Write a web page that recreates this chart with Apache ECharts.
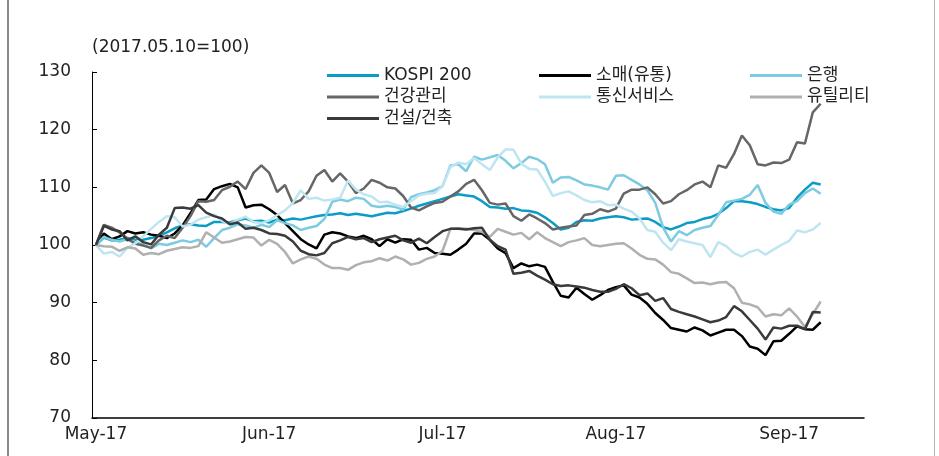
<!DOCTYPE html>
<html>
<head>
<meta charset="utf-8">
<script src="https://cdn.jsdelivr.net/npm/echarts@6/dist/echarts.min.js"></script>
<style>
html, body { margin: 0; padding: 0; background: #fff; }
#chart { width: 939px; height: 456px; }
</style>
</head>
<body>
<div id="chart"></div>
<script>
// 2017.05.10=100 기준 업종 지수 (일별)
var monthLabels = ['May-17', 'Jun-17', 'Jul-17', 'Aug-17', 'Sep-17'];
var daysPerMonth = 22;   // 라벨 간격(거래일)
var slotCount = 98;      // x축 전체 칸 수

var kospi = [100, 101.3, 100.8, 100.9, 101.2, 100.9, 100.9, 101.2, 101.6, 102.2,
    102.9, 103.4, 103.6, 103.4, 103.3, 104.0, 104.0, 103.9, 104.3, 104.6,
    104.1, 104.2, 103.9, 104.4, 104.3, 104.6, 104.4, 104.7, 105.0, 105.2,
    105.3, 105.5, 105.2, 105.4, 105.2, 105.0, 105.3, 105.6, 105.5, 105.9,
    106.3, 106.8, 107.2, 107.6, 108.0, 108.4, 108.8, 108.6, 108.4, 107.6,
    106.6, 106.5, 106.3, 106.4, 106.0, 105.9, 105.6, 104.8, 103.8, 102.7,
    103.0, 104.0, 104.3, 104.2, 104.6, 104.8, 105.0, 104.8, 104.4, 104.5,
    104.6, 104.0, 103.1, 102.7, 103.2, 103.8, 104.0, 104.5, 104.8, 105.4,
    106.4, 107.6, 107.6, 107.4, 107.1, 106.6, 106.2, 106.0, 106.4, 108.2,
    109.6, 110.8, 110.5];

var retail = [100, 102.0, 101.0, 101.5, 102.4, 102.0, 102.2, 101.8, 101.6, 101.2,
    102.0, 103.4, 105.5, 107.8, 107.9, 109.7, 110.2, 110.6, 110.0, 106.5,
    106.9, 107.0, 106.2, 105.2, 103.8, 102.4, 101.0, 100.1, 99.4, 101.8,
    102.2, 102.0, 101.5, 101.2, 101.6, 101.0, 99.8, 101.0, 100.4, 101.0,
    100.9, 99.2, 99.5, 98.6, 98.5, 98.3, 99.2, 100.2, 102.0, 102.0,
    100.9, 99.4, 98.6, 96.0, 96.8, 96.3, 96.6, 96.2, 93.6, 91.2,
    90.9, 92.6, 91.5, 90.5, 91.3, 92.2, 92.7, 93.0, 91.4, 90.9,
    89.8, 88.2, 87.0, 85.6, 85.3, 85.0, 85.7, 85.2, 84.3, 84.8,
    85.3, 85.3, 84.2, 82.4, 82.0, 80.9, 83.3, 83.4, 84.6, 85.9,
    85.4, 85.3, 86.6];

var bank = [100, 101.4, 100.9, 100.6, 101.0, 100.5, 100.1, 99.4, 100.2, 100.0,
    100.4, 100.8, 100.5, 100.9, 99.7, 101.2, 102.6, 103.0, 103.6, 103.4,
    103.0, 103.5, 103.1, 104.3, 103.8, 103.4, 102.6, 103.0, 103.3, 104.5,
    107.5, 107.9, 107.6, 108.2, 108.0, 106.8, 106.6, 106.8, 106.6, 106.1,
    108.3, 108.8, 109.1, 109.5, 110.2, 113.8, 114.0, 112.8, 115.3, 114.8,
    115.2, 115.6, 114.6, 113.3, 114.2, 115.3, 114.9, 114.0, 110.8, 111.7,
    111.8, 111.2, 110.5, 110.3, 110.0, 109.6, 112.0, 112.1, 111.3, 110.5,
    109.5, 107.3, 103.0, 100.6, 102.4, 101.7, 102.6, 103.0, 103.3, 105.2,
    107.4, 107.7, 108.0, 108.7, 110.4, 107.3, 105.8, 105.4, 107.0, 107.6,
    109.0, 109.8, 108.9];

var health = [100, 103.5, 103.0, 102.2, 101.1, 100.2, 99.9, 99.5, 100.8, 101.6,
    101.2, 103.0, 105.0, 107.6, 107.5, 107.8, 109.5, 110.1, 111.0, 109.7,
    112.5, 113.8, 112.5, 109.2, 110.4, 107.2, 107.8, 109.3, 112.0, 113.0,
    111.0, 112.4, 111.0, 109.0, 109.8, 111.3, 110.8, 110.0, 109.8, 108.5,
    106.5, 106.0, 106.7, 107.3, 107.5, 108.4, 109.3, 110.6, 111.3, 109.5,
    107.3, 107.0, 107.2, 105.0, 104.2, 105.3, 104.6, 103.8, 102.7, 103.0,
    103.2, 103.4, 105.2, 105.4, 106.2, 105.8, 106.3, 108.9, 109.6, 109.6,
    110.0, 108.8, 107.2, 107.6, 108.8, 109.5, 110.5, 111.0, 110.0, 113.8,
    113.4, 115.8, 119.0, 117.3, 114.0, 113.8, 114.3, 114.2, 114.8, 117.8,
    117.6, 123.0, 124.5];

var telecom = [100, 98.5, 98.8, 98.0, 99.5, 100.3, 101.5, 102.8, 104.0, 105.0,
    104.8, 103.2, 103.5, 104.4, 104.8, 105.3, 104.2, 103.6, 104.4, 104.9,
    104.0, 103.8, 104.3, 105.2, 106.0, 107.3, 109.5, 108.0, 108.2, 107.7,
    107.9, 108.2, 111.2, 109.6, 108.8, 108.4, 107.4, 107.5, 107.0, 106.6,
    107.6, 108.6, 108.9, 109.0, 110.2, 113.5, 114.3, 114.0, 115.1, 114.0,
    113.0, 115.2, 116.6, 116.5, 114.1, 113.2, 113.1, 111.0, 108.5, 109.0,
    109.3, 108.6, 107.8, 107.4, 107.6, 106.9, 107.0, 106.3, 105.8, 104.6,
    102.6, 102.3, 100.4, 99.1, 101.0, 100.6, 100.3, 100.0, 97.9, 100.5,
    99.8, 98.6, 98.0, 98.8, 99.2, 98.3, 99.2, 100.0, 100.7, 102.5,
    102.2, 102.7, 103.8];

var utility = [100, 99.8, 99.7, 99.0, 99.6, 99.4, 98.3, 98.6, 98.4, 99.0,
    99.3, 99.6, 99.5, 99.8, 102.2, 101.3, 100.4, 100.6, 101.0, 101.4,
    101.3, 99.9, 100.9, 100.2, 98.8, 96.8, 97.5, 98.0, 97.6, 96.6,
    96.0, 96.0, 95.7, 96.5, 97.0, 97.2, 97.7, 97.3, 98.0, 97.5,
    96.6, 96.9, 97.6, 98.0, 99.0, 102.8, 102.9, 102.8, 102.6, 102.3,
    101.4, 102.8, 102.3, 101.8, 102.1, 101.0, 102.2, 101.2, 100.5, 99.8,
    100.5, 100.8, 101.2, 100.0, 99.8, 100.0, 100.2, 100.3, 99.4, 98.3,
    97.6, 97.5, 96.6, 95.3, 95.0, 94.2, 93.4, 93.5, 93.2, 93.5,
    93.6, 92.5, 90.0, 89.7, 89.2, 87.6, 88.0, 87.8, 89.0, 87.6,
    85.8, 88.0, 90.2];

var construction = [100, 103.3, 102.7, 102.4, 100.8, 101.5, 100.5, 100.1, 101.8, 103.0,
    106.4, 106.5, 106.3, 106.9, 105.6, 105.0, 104.6, 103.6, 103.9, 102.8,
    103.0, 102.6, 102.0, 101.9, 101.6, 100.6, 99.0, 98.4, 98.2, 98.6,
    100.3, 100.8, 101.4, 101.0, 101.2, 100.5, 101.0, 101.3, 101.6, 100.8,
    100.4, 101.1, 100.3, 101.4, 102.4, 102.8, 102.8, 102.7, 102.9, 103.0,
    100.9, 99.8, 99.2, 95.0, 95.2, 95.5, 94.7, 94.0, 93.2, 92.9,
    93.0, 92.8, 92.6, 92.2, 91.9, 91.9, 92.4, 93.2, 92.5, 91.3,
    91.6, 90.3, 90.8, 88.9, 88.4, 88.0, 87.6, 87.1, 86.6, 86.9,
    87.5, 89.4, 88.5, 87.0, 85.5, 83.6, 85.7, 85.5, 86.0, 86.0,
    85.4, 88.4, 88.3];

var seriesNames = ['KOSPI 200', '소매(유통)', '은행', '건강관리', '통신서비스', '유틸리티', '건설/건축'];
var seriesData = [kospi, retail, bank, health, telecom, utility, construction];
var seriesColors = ['#0b9cc6', '#000000', '#7ccbe0', '#666666', '#bfe5f1', '#b0b0b0', '#3a3a3a'];

var fontFamily = 'DejaVu Sans, "Noto Sans CJK KR", sans-serif';

// x축 칸 (라벨은 22거래일마다)
var slots = [];
for (var i = 0; i < slotCount; i++) {
    var m = i / daysPerMonth;
    slots.push(i % daysPerMonth === 0 && m < monthLabels.length ? monthLabels[m] : '');
}

var chart = echarts.init(document.getElementById('chart'));

var series = seriesNames.map(function (name, k) {
    return {
        name: name,
        type: 'line',
        data: seriesData[k],
        symbol: 'none',
        smooth: false,
        lineStyle: { width: 2.5, color: seriesColors[k] },
        itemStyle: { color: seriesColors[k] }
    };
});

var legendBase = {
    orient: 'vertical',
    top: 62,
    icon: 'rect',
    itemWidth: 52,
    itemHeight: 3,
    itemGap: 4.5,
    selectedMode: false,
    textStyle: { fontSize: 17, lineHeight: 17, color: '#222', fontFamily: fontFamily }
};

function withBase(o) {
    var r = {};
    for (var k in legendBase) r[k] = legendBase[k];
    for (var k2 in o) r[k2] = o[k2];
    return r;
}

var option = {
    animation: false,
    backgroundColor: '#fff',
    grid: { left: 92, right: 75, top: 72, bottom: 38 },
    legend: [
        withBase({ left: 322, data: ['KOSPI 200', '건강관리', '건설/건축'] }),
        withBase({ left: 534, data: ['소매(유통)', '통신서비스'] }),
        withBase({ left: 745, data: ['은행', '유틸리티'] })
    ],
    xAxis: {
        type: 'category',
        data: slots,
        boundaryGap: true,
        axisLine: { lineStyle: { color: '#000', width: 1.5 } },
        axisTick: { show: false },
        axisLabel: {
            interval: 0,
            margin: 8,
            fontSize: 17,
            color: '#222',
            fontFamily: fontFamily
        },
        splitLine: { show: false }
    },
    yAxis: {
        type: 'value',
        min: 70,
        max: 130,
        interval: 10,
        axisLine: { show: true, lineStyle: { color: '#000', width: 1 } },
        axisTick: { show: true, inside: true, length: 5, lineStyle: { color: '#000' } },
        axisLabel: { margin: 21, fontSize: 17, color: '#222', fontFamily: fontFamily },
        splitLine: { show: false }
    },
    graphic: [
        {
            type: 'text',
            left: 92,
            top: 39,
            style: { text: '(2017.05.10=100)', fontSize: 17, fill: '#222', fontFamily: fontFamily }
        },
        {
            type: 'line',
            shape: { x1: 8, y1: 0, x2: 8, y2: 456 },
            style: { stroke: '#8a8a8a', lineWidth: 2 }
        },
        {
            type: 'line',
            shape: { x1: 934.5, y1: 0, x2: 934.5, y2: 456 },
            style: { stroke: '#b5b5b5', lineWidth: 1 }
        }
    ],
    series: series
};

chart.setOption(option);
</script>
</body>
</html>
